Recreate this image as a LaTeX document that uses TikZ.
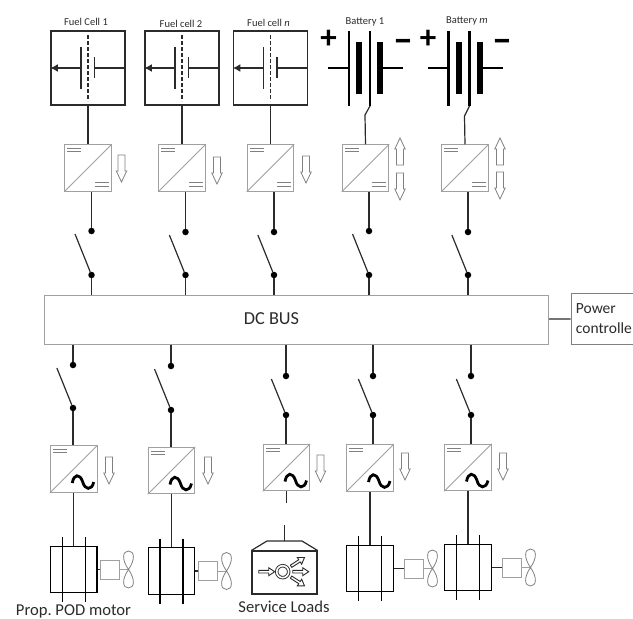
\documentclass[tikz,border=0pt]{standalone}
\usepackage{fontspec}
\setmainfont{Carlito}
\usetikzlibrary{arrows.meta}
\definecolor{inkdark}{HTML}{2B2B2B}
\definecolor{boxgray}{HTML}{A0A0A0}
\tikzset{
	wire/.style={draw=inkdark,line width=1.2pt},
	cellbox/.style={draw=inkdark,line width=1.3pt,minimum size=74pt,inner sep=0pt},
	convbox/.style={draw=boxgray,line width=1pt,minimum size=46.5pt,inner sep=0pt},
	thinbox/.style={draw=boxgray,line width=1pt,minimum size=19pt,inner sep=0pt},
	motorbox/.style={draw=black,line width=1.2pt,minimum size=46.5pt,inner sep=0pt},
	bigdot/.style={circle,fill=black,inner sep=0pt,minimum size=6.5pt},
	caption/.style={text=inkdark,font=\fontsize{10.5}{12}\selectfont,inner sep=0pt},
	bigtext/.style={text=inkdark,font=\fontsize{16.6}{20}\selectfont,inner sep=0pt},
	blockline/.style={draw=gray,line width=.8pt,line join=miter},
	loadline/.style={draw=inkdark,line width=.9pt,line join=miter},
	sign/.style={font=\bfseries\fontsize{33}{33}\selectfont,inner sep=0pt},
}
\newcommand{\convunit}[3]{
	\node[convbox] (#1) at (#2,#3) {};
	\draw[draw=boxgray,line width=.8pt] (#1.south west) -- (#1.north east);
	\draw[draw=gray,line width=.8pt] (#1.north west) ++(3,4.5) -- ++(14,0) ++(0,3) -- ++(-14,0);
}
\newcommand{\dcmark}[1]{
	\draw[draw=gray,line width=.8pt] (#1.south east) ++(-17,-9) -- ++(14,0) ++(0,3.5) -- ++(-14,0);
}
\newcommand{\acmark}[2]{
	\draw[black,line width=2.8pt,shift={(#1,#2)}] (-1.5,14) .. controls (0,5) and (6,4) .. (9,13) .. controls (11,21) and (18,22) .. (20,13);
}
\newcommand{\blockarrow}[3]{
	\draw[blockline,shift={(#1,#2)},yscale=#3] (-3.5,0) -- (3.5,0) -- (3.5,16) -- (5.2,16) -- (0,27) -- (-5.2,16) -- (-3.5,16) -- cycle;
}
\newcommand{\loadarrow}[2]{
	\draw[loadline,shift={(hub)},rotate=#1] (#2,1.3) -- (#2+10,1.3) -- (#2+10,4) -- (#2+16,0) -- (#2+10,-4) -- (#2+10,-1.3) -- (#2,-1.3) -- cycle;
}
\newcommand{\switchunit}[4]{
	\node[bigdot] (#1t) at (#2,#3) {};
	\node[bigdot] (#1b) at (#2,#4) {};
	\draw[wire] (#1b) -- ({#2-(#4-#3)*0.375},#3+3);
}
\newcommand{\fuelcell}[2]{
	\node[cellbox] (#1) at (#2,68) {};
	\draw[wire,line width=1.4pt,-{Latex[length=7.5pt,width=8pt]}] (#2-7,68) -- (#1.west);
	\draw[wire] (#2-7,47) -- (#2-7,89);
	\draw[wire,dashed,dash pattern=on 3.5pt off 2.5pt] (#2,35) -- (#2,101);
	\draw[wire] (#2+6.5,57) -- (#2+6.5,78);
	\draw[wire] (#2+6.5,68) -- (#1.east);
}
\newcommand{\battery}[2]{
	\draw[black,line width=2.4pt] (#2,31) -- (#2,106) (#2+21,31) -- (#2+21,106);
	\draw[black,line width=6pt] (#2+10,42) -- (#2+10,94) (#2+31,42) -- (#2+31,94);
	\draw[black,line width=1.8pt] (#2-21,68) -- (#2,68) (#2+31,68) -- (#2+54,68);
	\node[sign] (#1plus) at (#2-20.3,39) {+};
	\node[sign,font=\bfseries\fontsize{40}{40}\selectfont] (#1minus) at (#2+54,46) {–};
	\coordinate (#1) at (#2+21,106);
}
\newcommand{\motorunit}[4]{
	\node[motorbox] (#1) at (#2,#3) {};
	\draw[black,line width=1.1pt] (#2-11.5,#3-32.5) -- (#2-11.5,#3+32.5) (#2+11.5,#3-32.5) -- (#2+11.5,#3+32.5);
	\node[thinbox] (#1g) at (#4,#3) {};
	\draw[wire] (#1) -- (#1g);
	\coordinate (#1p) at (#4+19,#3);
	\draw[boxgray,line width=1pt] (#1g) -- (#1p);
	\draw[draw=gray,line width=.8pt,shift={(#1p)}] (0,0) .. controls (-7,-10) and (-6,-18.5) .. (0,-18.5) .. controls (6,-18.5) and (7,-10) .. (0,0) .. controls (-7,10) and (-6,18.5) .. (0,18.5) .. controls (6,18.5) and (7,10) .. (0,0);
}
\begin{document}
\begin{tikzpicture}[x=1pt,y=-1pt]
	\useasboundingbox (0,0) rectangle (633,619);
	% bus and controller
	\node[draw=boxgray,line width=1pt,minimum width=504pt,minimum height=49pt,inner sep=0pt] (bus) at (296.5,319.5) {};
	\node[bigtext,font=\fontsize{18.3}{20}\selectfont] (buslabel) at (271.5,319) {DC BUS};
	\node[draw=gray,line width=.9pt,anchor=west,minimum width=70pt,minimum height=50.5pt,inner xsep=5pt,inner ysep=0pt,text width=62pt,align=left,text=inkdark,font=\fontsize{15.5}{20}\selectfont] (ctrl) at (570.5,319) {Power\\controlle};
	\draw[wire] (bus) -- (ctrl);
	% sources
	\fuelcell{cellA}{88}
	\fuelcell{cellB}{182}
	\fuelcell{cellC}{270.5}
	\battery{batA}{349}
	\battery{batB}{448.5}
	\node[caption] (lcellA) at (86,22) {Fuel Cell 1};
	\node[caption] (lcellB) at (181,24) {Fuel cell 2};
	\node[caption] (lcellC) at (268.5,23) {Fuel cell \textit{n}};
	\node[caption] (lbatA) at (365,22) {Battery 1};
	\node[caption] (lbatB) at (467,21) {Battery \textit{m}};
	% upper converters and switches
	\foreach \n/\cx/\sx/\st in {A/88/91.5/231,B/182/185.5/232,C/270.5/274/232,D/365.5/369/231,E/465/468/232}{
		\convunit{up\n}{\cx}{168}
		\dcmark{up\n}
		\switchunit{su\n}{\sx}{\st}{275}
		\draw[wire] (up\n.south -| su\n t) -- (su\n t);
		\draw[wire] (su\n b) -- (su\n b |- bus.north);
	}
	\draw[wire] (cellA) -- (upA);
	\draw[wire] (cellB) -- (upB);
	\draw[wire] (cellC) -- (upC);
	\draw[wire] (batA) -- ++(-5,9) -- (upD.north);
	\draw[wire] (batB) -- ++(-5,10) -- (upE.north);
	\blockarrow{121.5}{155}{1}
	\blockarrow{217}{157}{1}
	\blockarrow{306}{156}{1}
	\blockarrow{400}{165}{-1}
	\blockarrow{400}{173}{1}
	\blockarrow{500}{165}{-1}
	\blockarrow{500}{172}{1}
	% lower converters and switches
	\foreach \n/\cx/\cy/\sx/\st/\sb/\ax/\ay in {A/73.75/469/73/365/408/109/457,B/171.5/470.5/171/366/410/208/457,C/286.5/467.5/286/376/415/320.5/455,D/370/468/373/376/415/405/453,E/468/467.5/471/376/415/503/453}{
		\convunit{lo\n}{\cx}{\cy}
		\acmark{\cx}{\cy}
		\switchunit{sl\n}{\sx}{\st}{\sb}
		\draw[wire] (sl\n t |- bus.south) -- (sl\n t);
		\draw[wire] (sl\n b) -- (sl\n b |- lo\n.north);
		\blockarrow{\ax}{\ay}{1}
	}
	% motors
	\motorunit{motA}{73.75}{569.5}{109.5}
	\motorunit{motB}{171.5}{571}{207.5}
	\motorunit{motD}{370}{568.5}{413.5}
	\motorunit{motE}{468}{567.5}{511.5}
	\draw[wire] (loA) -- (motA);
	\draw[wire] (loB) -- (motB);
	\draw[wire] (loD) -- (motD);
	\draw[wire] (loE) -- (motE);
	\node[bigtext] (lmot) at (73.5,611) {Prop.\ POD motor};
	% service loads
	\node[draw=inkdark,line width=1.1pt,minimum width=65pt,minimum height=43pt,inner sep=0pt] (load) at (284.5,572.5) {};
	\draw[wire] (load.north west) -- (267,541) -- (302,541) -- (load.north east);
	\coordinate (stubA) at (286.5,503);
	\coordinate (stubB) at (284.5,525);
	\coordinate (stubC) at (284.5,541);
	\draw[wire] (loC) -- (stubA);
	\draw[wire] (stubB) -- (stubC);
	\node[circle,draw=inkdark,line width=.9pt,double,double distance=1.6pt,minimum size=12pt,inner sep=0pt] (hub) at (282.7,571.7) {};
	\loadarrow{0}{-24}
	\loadarrow{33}{10}
	\loadarrow{0}{10}
	\loadarrow{-33}{10}
	\node[bigtext] (lload) at (284,607) {Service Loads};
\end{tikzpicture}
\end{document}
